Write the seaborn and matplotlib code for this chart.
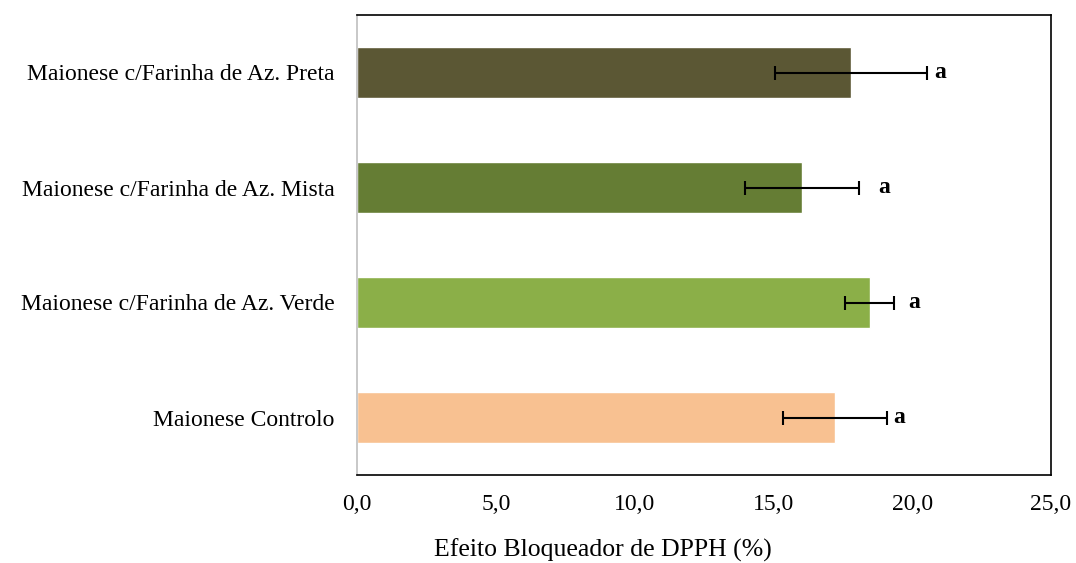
import matplotlib
matplotlib.use("Agg")
import matplotlib.pyplot as plt
import seaborn as sns
import pandas as pd

categories = ["Maionese c/Farinha de Az. Preta",
              "Maionese c/Farinha de Az. Mista",
              "Maionese c/Farinha de Az. Verde",
              "Maionese Controlo"]
values = [17.8, 16.03, 18.47, 17.22]
errors = [2.74, 2.05, 0.88, 1.87]
letters = ["a", "a", "a", "a"]
colors = ["#5B5734", "#657D34", "#8BAF48", "#F8C191"]
xticks = [0, 5, 10, 15, 20, 25]
xticklabels = ["0,0", "5,0", "10,0", "15,0", "20,0", "25,0"]
letter_offsets_pt = [5, 14, 10, 4.5]

sns.set_style("white")
plt.rcParams['font.family'] = ['Liberation Serif', 'DejaVu Serif']
plt.rcParams['text.color'] = 'black'
plt.rcParams['xtick.color'] = 'black'
plt.rcParams['ytick.color'] = 'black'
plt.rcParams['axes.labelcolor'] = 'black'

df = pd.DataFrame({"cat": categories, "val": values})

fig = plt.figure(figsize=(10.76, 5.63), dpi=100)
ax = fig.add_axes([357/1076, 1 - 475/563, 694/1076, 460/563])

sns.barplot(data=df, x="val", y="cat", hue="cat", order=categories,
            palette=colors, legend=False, width=0.435, ax=ax,
            saturation=1, errorbar=None)

ypos = list(range(len(categories)))
ax.errorbar(values, ypos, xerr=errors, fmt="none", ecolor="black",
            elinewidth=1.5, capsize=5, capthick=1.5)

for y, v, e, t, off in zip(ypos, values, errors, letters, letter_offsets_pt):
    ax.annotate(t, xy=(v + e, y), xytext=(off, 0), textcoords="offset points",
                ha="left", va="center", fontsize=17, fontweight="bold")

ax.set_xlim(0, 25)
ax.set_ylim(3.5, -0.5)
ax.set_xticks(xticks)
ax.set_xticklabels(xticklabels, fontsize=17)
ax.tick_params(axis="x", length=0, pad=14)
ax.tick_params(axis="y", length=0, pad=16, labelsize=17)
ax.set_ylabel("")
ax.set_xlabel("Efeito Bloqueador de DPPH (%)", fontsize=18.5)
ax.xaxis.set_label_coords(246/694, -64/460)

for s in ["top", "right", "bottom"]:
    ax.spines[s].set_color("black")
    ax.spines[s].set_linewidth(1.2)
ax.spines["left"].set_color("#BFBFBF")
ax.spines["left"].set_linewidth(1.2)

fig.savefig("out.png", dpi=100)
